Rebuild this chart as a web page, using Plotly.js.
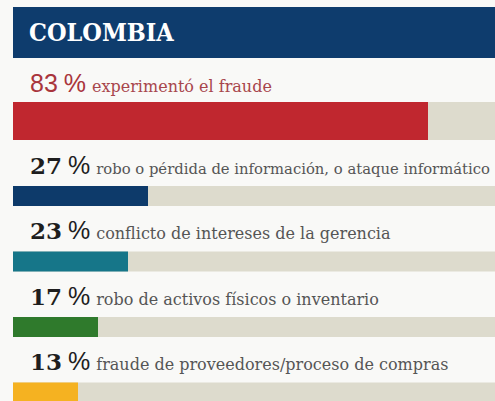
<!DOCTYPE html>
<html>
<head>
<meta charset="utf-8">
<script src="https://cdn.plot.ly/plotly-3.0.1.min.js"></script>
<style>
  html, body { margin: 0; padding: 0; background: #f9f9f7; }
  #chart { width: 495px; height: 401px; }
</style>
</head>
<body>
<div id="chart"></div>
<script>
const title = 'COLOMBIA';
const categories = [
  'experimentó el fraude',
  'robo o pérdida de información, o ataque informático',
  'conflicto de intereses de la gerencia',
  'robo de activos físicos o inventario',
  'fraude de proveedores/proceso de compras'
];
const values = [83, 27, 23, 17, 13];
const track = [100, 100, 100, 100, 100];
const barColors = ['#c0272f', '#0d3a6a', '#167689', '#2f7a2c', '#f5b221'];

const positions = categories.map((c, i) => i);
const widths = [0.58, 0.305, 0.305, 0.305, 0.305];
const offsets = [-0.435, -0.1525, -0.1525, -0.1525, -0.1525];
const descSizes = [16, 14.8, 16, 16, 16];

const trackTrace = {
  type: 'bar', orientation: 'h',
  x: track, y: positions,
  width: widths, offset: offsets,
  marker: { color: '#dddbcd', line: { width: 0 } },
  hoverinfo: 'skip', showlegend: false
};
const valueTrace = {
  type: 'bar', orientation: 'h',
  x: values, y: positions,
  width: widths, offset: offsets,
  marker: { color: barColors, line: { width: 0 } },
  hoverinfo: 'skip', showlegend: false
};

const labelShift = [47, 31, 31, 31, 31];
const annotations = categories.map((c, i) => {
  const first = i === 0;
  const num = first
    ? `<span style="font-family:'Liberation Sans', Arial, sans-serif;font-size:25px;color:#a9353c">${values[i]}</span>`
    : `<span style="font-family:'DejaVu Serif', serif;font-weight:bold;color:#1e1e1e">${values[i]}</span>`;
  const pct = `<span style="font-family:'Liberation Sans', Arial, sans-serif;font-size:25px;color:${first ? '#a9353c' : '#1e1e1e'}">%</span>`;
  const desc = `<span style="font-family:'DejaVu Serif', serif;font-size:${descSizes[i]}px;color:${first ? '#a8464c' : '#555555'}">${c}</span>`;
  return {
    xref: 'paper', x: 0, xshift: 15, xanchor: 'left',
    yref: 'y', y: positions[i], yshift: labelShift[i], yanchor: 'middle',
    text: `${num} ${pct} ${desc}`,
    showarrow: false,
    font: { size: 23, color: '#1e1e1e' },
    align: 'left'
  };
});
annotations.push({
  xref: 'paper', x: 0, xshift: 14, xanchor: 'left',
  yref: 'paper', y: 1 - 33 / 401, yanchor: 'middle',
  text: `<b>${title}</b>`,
  showarrow: false,
  font: { family: "'DejaVu Serif Condensed', 'DejaVu Serif', serif", size: 25, color: '#ffffff' }
});

const layout = {
  width: 495, height: 401,
  margin: { l: 13, r: 0, t: 0, b: 0, pad: 0 },
  paper_bgcolor: '#f9f9f7', plot_bgcolor: '#f9f9f7',
  barmode: 'overlay',
  xaxis: { range: [0, 96.4], visible: false, fixedrange: true },
  yaxis: { range: [4.13, -1.992], visible: false, fixedrange: true },
  shapes: [{
    type: 'rect', xref: 'paper', yref: 'paper',
    x0: 0, x1: 1, y0: 1 - 58 / 401, y1: 1 - 7 / 401,
    fillcolor: '#0e3c6d', line: { width: 0 }, layer: 'below'
  }],
  annotations: annotations,
  showlegend: false
};

Plotly.newPlot('chart', [trackTrace, valueTrace], layout, { displayModeBar: false, staticPlot: true });
</script>
</body>
</html>
